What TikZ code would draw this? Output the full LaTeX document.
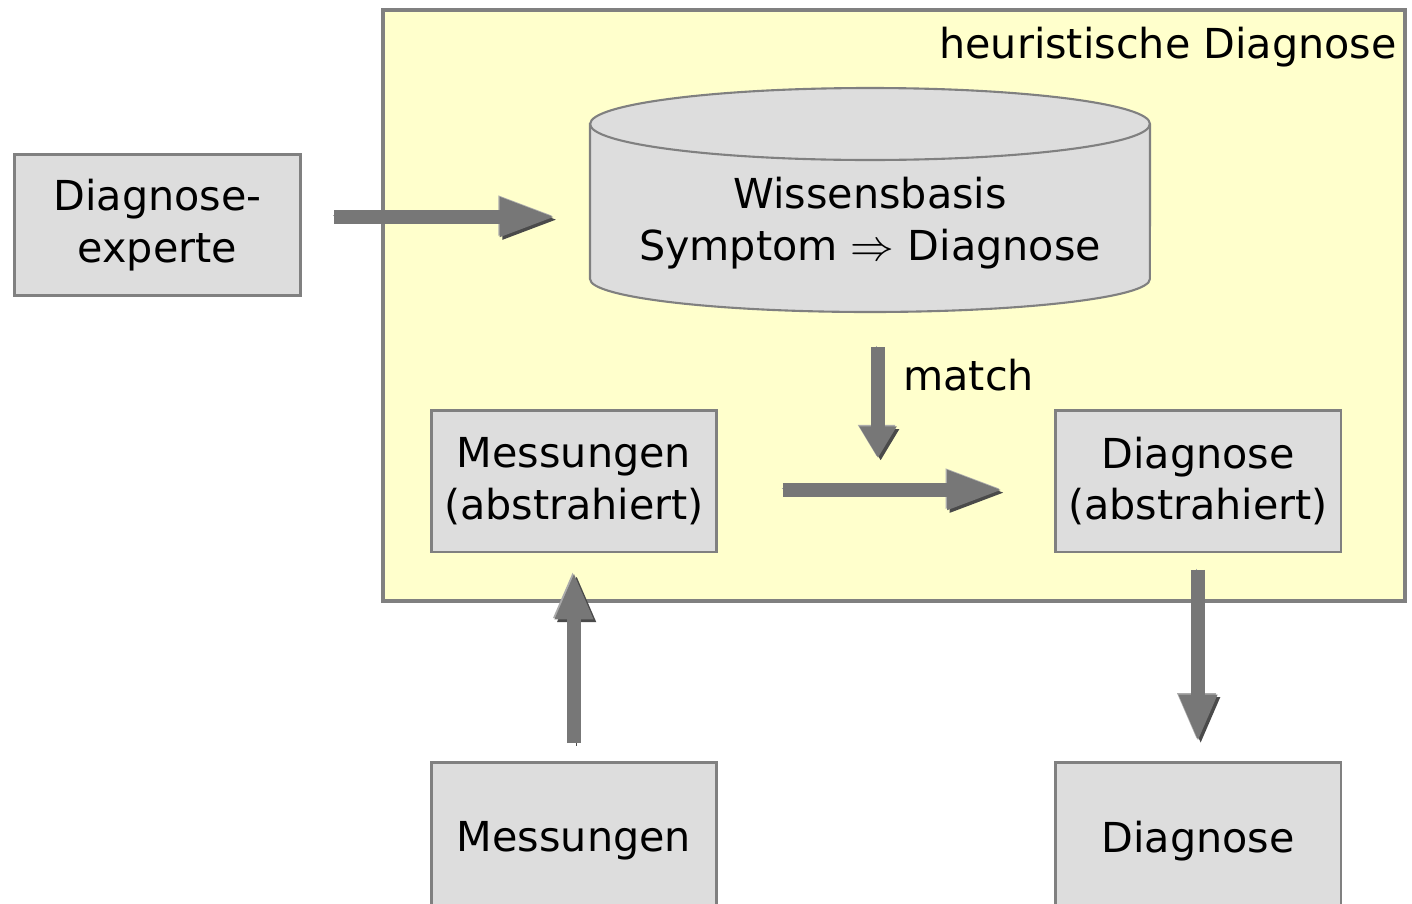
\documentclass[tikz,border=0pt]{standalone}
\usepackage{fontspec}
\setmainfont{DejaVu Sans}
\usetikzlibrary{arrows.meta}

\definecolor{framefill}{HTML}{FFFFCC}
\definecolor{boxfill}{HTML}{DDDDDD}
\definecolor{bordergray}{HTML}{808080}
\definecolor{arrowgray}{HTML}{777777}
\definecolor{arrowdark}{HTML}{4A4A4A}
\definecolor{arrowlight}{HTML}{ABABAB}
\newcommand{\diagfont}{\fontsize{23.5}{29.5}\selectfont}

\tikzset{
  frame/.style={draw=bordergray, fill=framefill, line width=2.3pt,
    minimum width=20.44cm, minimum height=11.82cm, inner sep=0pt},
  box/.style={draw=bordergray, fill=boxfill, line width=1.7pt, align=center,
    minimum width=5.72cm, minimum height=2.84cm, font=\diagfont},
  label/.style={font=\diagfont, inner sep=0pt},
  blockarrow/.style={draw=arrowgray, line width=8.5pt,
    -{Triangle[width=20pt,length=#1]},
    preaction={draw=arrowdark, transform canvas={shift={(1.5pt,-1.5pt)}}},
    preaction={draw=arrowlight, transform canvas={shift={(-0.8pt,0.8pt)}}}},
  blockarrow/.default=33pt
}

\begin{document}
\begin{tikzpicture}[x=0.02cm, y=-0.02cm]
   \useasboundingbox (0,0) rectangle (1412,903);

   \node[frame] (frame) at (894,305.5) {};
   \node[label, anchor=base east] (title) at (1397,58) {heuristische Diagnose};

   % Wissensbasis
   \path[draw=bordergray, fill=boxfill, line width=1.2pt]
     (590,124) -- (590,279)
     arc[start angle=180, end angle=360, x radius=5.6cm, y radius=0.66cm]
     -- (1150,124)
     arc[start angle=0, end angle=180, x radius=5.6cm, y radius=0.72cm] -- cycle;
   \draw[bordergray, line width=1.2pt] (590,124)
     arc[start angle=180, end angle=360, x radius=5.6cm, y radius=0.72cm];
   \node[label, align=center, minimum width=11.2cm, minimum height=3.68cm] (kb) at (870,223)
     {Wissensbasis\\Symptom $\Rightarrow$ Diagnose};

   \node[box] (dexp) at (157.5,225) {Diagnose-\\experte};
   \node[box] (mabs) at (574,481) {Messungen\\(abstrahiert)};
   \node[box] (dabs) at (1198,481) {Diagnose\\(abstrahiert)};
   \node[box, minimum height=3.16cm] (mess) at (574,841) {Messungen};
   \node[box, minimum height=3.16cm] (diag) at (1198,841) {Diagnose};

   \draw[blockarrow, shorten <=0.65cm, shorten >=0.64cm]
     ([yshift=0.16cm]dexp.east) -- ([yshift=0.16cm]dexp.east -| kb.west);
   \draw[blockarrow=18pt, shorten <=0.64cm, shorten >=0.46cm]
     ([xshift=0.16cm]kb.south) -- ([xshift=0.16cm]kb.south |- mabs.east);
   \node[label, anchor=base west] (match) at (903,390) {match};
   \draw[blockarrow, shorten <=1.29cm, shorten >=0.97cm]
     ([yshift=-0.18cm]mabs.east) -- ([yshift=-0.18cm]dabs.west);
   \draw[blockarrow=27pt, shorten <=0.35cm, shorten >=0.37cm] (mess.north) -- (mabs.south);
   \draw[blockarrow=27pt, shorten <=0.33cm, shorten >=0.37cm] (dabs.south) -- (diag.north);

\end{tikzpicture}
\end{document}
